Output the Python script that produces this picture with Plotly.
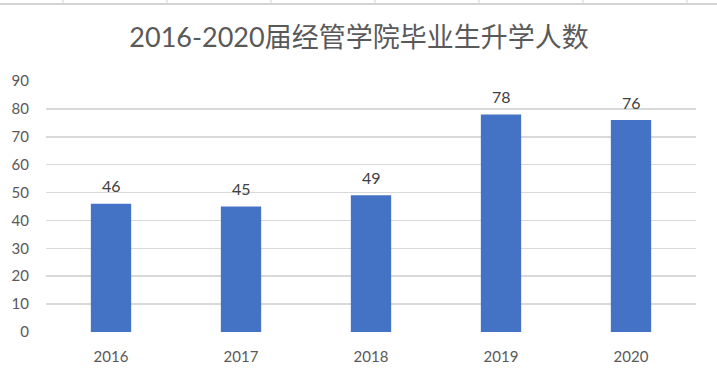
import plotly.graph_objects as go

title_text = "2016-2020届经管学院毕业生升学人数"
years = ["2016", "2017", "2018", "2019", "2020"]
counts = [46, 45, 49, 78, 76]
y_ticks = [0, 10, 20, 30, 40, 50, 60, 70, 80, 90]

W, H = 717, 378
ML, MR, MT, MB = 46, 21, 81, 46

fig = go.Figure()
fig.add_trace(go.Bar(
    x=years, y=counts,
    marker=dict(color="#4472C4", line=dict(width=0)),
    hoverinfo="skip",
))

# value labels above each bar (category index positions on the category axis)
for i, v in enumerate(counts):
    fig.add_annotation(
        x=i, y=v, xref="x", yref="y", text=str(v), showarrow=False,
        yanchor="middle", yshift=18,
        font=dict(family="Lato, Noto Sans CJK SC, sans-serif", size=16, color="#404040"),
    )

# spreadsheet cell gridlines at the top of the screenshot
shapes = []
shapes.append(dict(type="line", xref="paper", yref="paper",
                   x0=(0 - ML) / (W - ML - MR), x1=(W - ML) / (W - ML - MR),
                   y0=(H - MB - 4) / (H - MT - MB), y1=(H - MB - 4) / (H - MT - MB),
                   line=dict(color="#D4D4D4", width=2)))
for px in [63, 167, 271, 375, 479, 583, 687]:
    xp = (px - ML) / (W - ML - MR)
    shapes.append(dict(type="line", xref="paper", yref="paper",
                       x0=xp, x1=xp,
                       y0=(H - MB - 0) / (H - MT - MB), y1=(H - MB - 4) / (H - MT - MB),
                       line=dict(color="#D4D4D4", width=1)))

fig.update_layout(
    width=W, height=H,
    margin=dict(l=ML, r=MR, t=MT, b=MB, autoexpand=False),
    paper_bgcolor="white", plot_bgcolor="white",
    showlegend=False,
    bargap=0.69,
    title=dict(text=title_text, x=359 / W, xref="container", xanchor="center",
               y=1 - 38 / H, yref="container", yanchor="middle",
               font=dict(family="Lato, Noto Sans CJK SC, sans-serif", size=27, color="#595959")),
    xaxis=dict(type="category", range=[-0.5, len(years) - 0.5], automargin=False,
               showgrid=False, showline=False, zeroline=False, ticks="",
               ticklabelstandoff=14,
               tickfont=dict(family="Lato, Noto Sans CJK SC, sans-serif", size=15, color="#595959")),
    yaxis=dict(range=[0, 90], tickvals=y_ticks, automargin=False,
               showgrid=True, gridcolor="#D9D9D9", gridwidth=1.5,
               zeroline=False, showline=False, ticks="",
               ticklabelstandoff=16,
               tickfont=dict(family="Lato, Noto Sans CJK SC, sans-serif", size=15, color="#595959")),
    shapes=shapes,
)

fig.write_html("out.html", config={"displayModeBar": False, "staticPlot": True},
               post_script="document.body.style.margin='0';document.body.style.overflow='hidden';")
